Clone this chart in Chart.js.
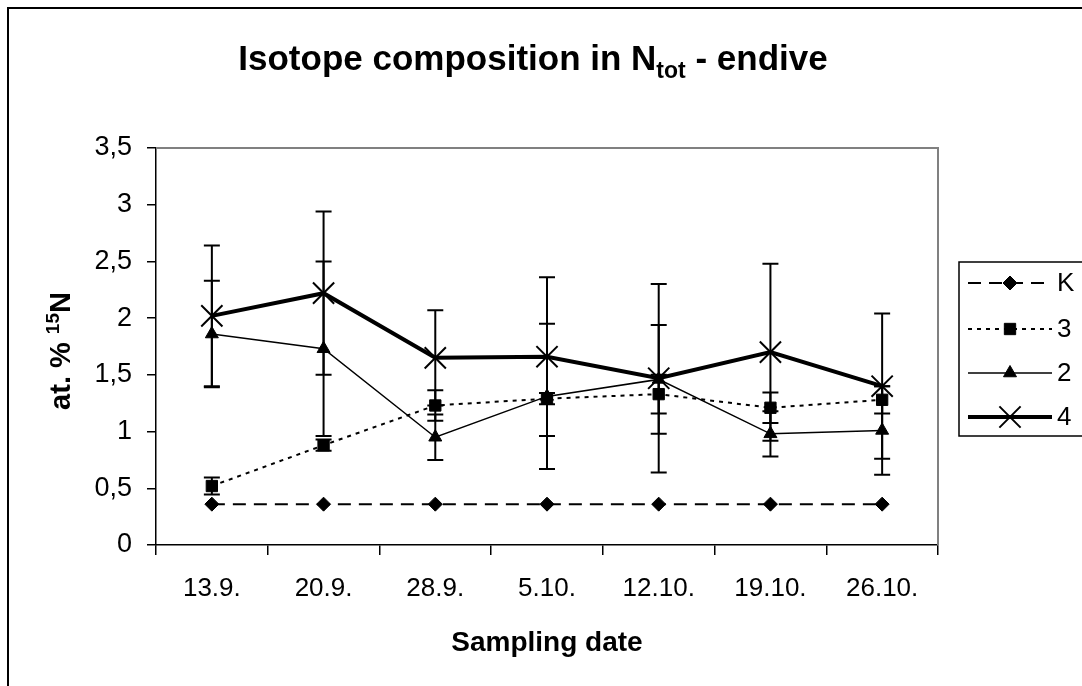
<!DOCTYPE html>
<html>
<head>
<meta charset="utf-8">
<script src="https://cdn.jsdelivr.net/npm/chart.js@4.4.0/dist/chart.umd.min.js"></script>
<style>
    html, body { margin: 0; padding: 0; background: #fff; }
    #wrap { width: 1082px; height: 686px; }
</style>
</head>
<body>
<div id="wrap"><canvas id="chart" width="1082" height="686"></canvas></div>
<script>
// Data
const dates = ['13.9.', '20.9.', '28.9.', '5.10.', '12.10.', '19.10.', '26.10.'];
const seriesNames = ['K', '3', '2', '4'];
const valuesK = [0.36, 0.36, 0.36, 0.36, 0.36, 0.36, 0.36];
const values3 = [0.52, 0.88, 1.23, 1.29, 1.33, 1.21, 1.28];
const values2 = [1.86, 1.73, 0.95, 1.31, 1.46, 0.98, 1.01];
const values4 = [2.02, 2.22, 1.65, 1.66, 1.47, 1.70, 1.40];
const errorsK = [0, 0, 0, 0, 0, 0, 0];
const errors3 = [0.075, 0.05, 0.135, 0.05, 0.17, 0.135, 0.12];
const errors2 = [0.47, 0.77, 0.2, 0.64, 0.48, 0.2, 0.39];
const errors4 = [0.62, 0.72, 0.42, 0.70, 0.83, 0.78, 0.64];
const yTicks = [0, 0.5, 1, 1.5, 2, 2.5, 3, 3.5];

const FONT = '"Liberation Sans", Arial, sans-serif';

Chart.defaults.font.family = FONT;
Chart.defaults.color = '#000';

// Error bars drawn through the scales
const errorBarPlugin = {
    id: 'errorBars',
    beforeDatasetsDraw(chart) {
        const ctx = chart.ctx;
        const x = chart.scales.x, y = chart.scales.y;
        chart.data.datasets.forEach(ds => {
            if (!ds.errors) return;
            ctx.save();
            ctx.strokeStyle = '#000';
            ctx.lineWidth = 2;
            ds.data.forEach((v, i) => {
                const e = ds.errors[i];
                if (!e) return;
                const px = x.getPixelForValue(i);
                const top = y.getPixelForValue(v + e);
                const bot = y.getPixelForValue(v - e);
                ctx.beginPath();
                ctx.moveTo(px, top); ctx.lineTo(px, bot);
                ctx.moveTo(px - 8, top); ctx.lineTo(px + 8, top);
                ctx.moveTo(px - 8, bot); ctx.lineTo(px + 8, bot);
                ctx.stroke();
            });
            ctx.restore();
        });
    }
};

// Frame, plot border, titles and legend in the Excel look
const decorPlugin = {
    id: 'decor',
    beforeDraw(chart) {
        const ctx = chart.ctx;
        ctx.save();
        ctx.fillStyle = '#fff';
        ctx.fillRect(0, 0, chart.width, chart.height);
        ctx.restore();
    },
    afterDraw(chart) {
        const ctx = chart.ctx;
        const a = chart.chartArea;
        ctx.save();

        // outer frame
        ctx.strokeStyle = '#000';
        ctx.lineWidth = 2;
        ctx.strokeRect(8, 8, chart.width + 20, chart.height + 20);

        // plot area border (top + right)
        ctx.strokeStyle = '#808080';
        ctx.lineWidth = 2;
        ctx.beginPath();
        ctx.moveTo(a.left, a.top);
        ctx.lineTo(a.right, a.top);
        ctx.lineTo(a.right, a.bottom);
        ctx.stroke();

        // title with subscript
        ctx.fillStyle = '#000';
        ctx.textBaseline = 'alphabetic';
        const big = 'bold 35px ' + FONT, small = 'bold 23px ' + FONT;
        const p1 = 'Isotope composition in N', p2 = 'tot', p3 = ' - endive';
        ctx.font = big; const w1 = ctx.measureText(p1).width, w3 = ctx.measureText(p3).width;
        ctx.font = small; const w2 = ctx.measureText(p2).width;
        let tx = 533 - (w1 + w2 + w3) / 2;
        ctx.font = big; ctx.fillText(p1, tx, 70); tx += w1;
        ctx.font = small; ctx.fillText(p2, tx, 78); tx += w2;
        ctx.font = big; ctx.fillText(p3, tx, 70);

        // x axis title
        ctx.font = 'bold 28px ' + FONT;
        ctx.textAlign = 'center';
        ctx.fillText('Sampling date', (a.left + a.right) / 2, 651);

        // y axis title with superscript
        ctx.save();
        ctx.translate(70, 351);
        ctx.rotate(-Math.PI / 2);
        ctx.textAlign = 'left';
        const q1 = 'at. % ', q2 = '15', q3 = 'N';
        const mainFont = 'bold 29px ' + FONT, supFont = 'bold 19px ' + FONT;
        ctx.font = mainFont; const v1 = ctx.measureText(q1).width, v3 = ctx.measureText(q3).width;
        ctx.font = supFont; const v2 = ctx.measureText(q2).width;
        let ty = -(v1 + v2 + v3) / 2;
        ctx.font = mainFont; ctx.fillText(q1, ty, 0); ty += v1;
        ctx.font = supFont; ctx.fillText(q2, ty, -11); ty += v2;
        ctx.font = mainFont; ctx.fillText(q3, ty, 0);
        ctx.restore();

        // legend
        const lx = 959, ly = 262, lb = 436;
        ctx.strokeStyle = '#000';
        ctx.lineWidth = 1.5;
        ctx.strokeRect(lx, ly, chart.width - lx + 10, lb - ly);
        const rowY = [283, 329, 373, 417];
        chart.data.datasets.forEach((ds, i) => {
            const yy = rowY[i];
            ctx.save();
            ctx.strokeStyle = '#000';
            ctx.lineWidth = ds.borderWidth;
            ctx.setLineDash(ds.borderDash || []);
            ctx.beginPath();
            ctx.moveTo(968, yy); ctx.lineTo(1052, yy);
            ctx.stroke();
            ctx.restore();
            ctx.fillStyle = '#000';
            ctx.strokeStyle = '#000';
            ctx.lineWidth = ds.pointBorderWidth;
            Chart.helpers.drawPoint(ctx, {
                pointStyle: ds.pointStyle,
                rotation: 0,
                radius: ds.pointRadius,
                borderWidth: ds.pointBorderWidth
            }, 1010, yy);
            ctx.font = '26px ' + FONT;
            ctx.textAlign = 'left';
            ctx.textBaseline = 'middle';
            ctx.fillText(ds.label, 1057, yy + 1);
        });
        ctx.restore();
    }
};

function markerOpts(style, radius, bw) {
    return { pointStyle: style, pointRadius: radius, pointHoverRadius: radius, pointBorderWidth: bw };
}

const datasets = [
    Object.assign({
        label: seriesNames[0], data: valuesK, errors: errorsK,
        borderColor: '#000', backgroundColor: '#000', pointBackgroundColor: '#000', pointBorderColor: '#000',
        borderWidth: 2, borderDash: [13, 8]
    }, markerOpts('rectRot', 7, 1)),
    Object.assign({
        label: seriesNames[1], data: values3, errors: errors3,
        borderColor: '#000', backgroundColor: '#000', pointBackgroundColor: '#000', pointBorderColor: '#000',
        borderWidth: 2, borderDash: [4, 5]
    }, markerOpts('rect', 8, 1)),
    Object.assign({
        label: seriesNames[2], data: values2, errors: errors2,
        borderColor: '#000', backgroundColor: '#000', pointBackgroundColor: '#000', pointBorderColor: '#000',
        borderWidth: 1.5, borderDash: []
    }, markerOpts('triangle', 7.5, 1)),
    Object.assign({
        label: seriesNames[3], data: values4, errors: errors4,
        borderColor: '#000', backgroundColor: '#000', pointBackgroundColor: '#000', pointBorderColor: '#000',
        borderWidth: 4, borderDash: []
    }, markerOpts('crossRot', 15, 2))
];

new Chart(document.getElementById('chart'), {
    type: 'line',
    data: { labels: dates, datasets: datasets },
    options: {
        responsive: false,
        animation: false,
        devicePixelRatio: 1,
        layout: { padding: { left: 0, top: 148, right: 144, bottom: 0 } },
        plugins: { legend: { display: false }, title: { display: false }, tooltip: { enabled: false } },
        elements: { line: { tension: 0 } },
        scales: {
            x: {
                type: 'category',
                offset: true,
                grid: { display: true, drawOnChartArea: false, offset: true, tickLength: 10, color: '#000', lineWidth: 1.5 },
                border: { display: true, color: '#000', width: 1.5 },
                ticks: { font: { size: 26 }, color: '#000', padding: 18, maxRotation: 0, autoSkip: false },
                afterFit(scale) { scale.height = 141; }
            },
            y: {
                min: 0, max: 3.5,
                afterBuildTicks(scale) { scale.ticks = yTicks.map(v => ({ value: v })); },
                grid: { display: true, drawOnChartArea: false, tickLength: 9, color: '#000', lineWidth: 1.5 },
                border: { display: true, color: '#000', width: 1.5 },
                ticks: {
                    font: { size: 27 }, color: '#000', padding: 15,
                    callback: v => String(v).replace('.', ',')
                },
                afterFit(scale) { scale.width = 156; }
            }
        }
    },
    plugins: [errorBarPlugin, decorPlugin]
});
</script>
</body>
</html>
